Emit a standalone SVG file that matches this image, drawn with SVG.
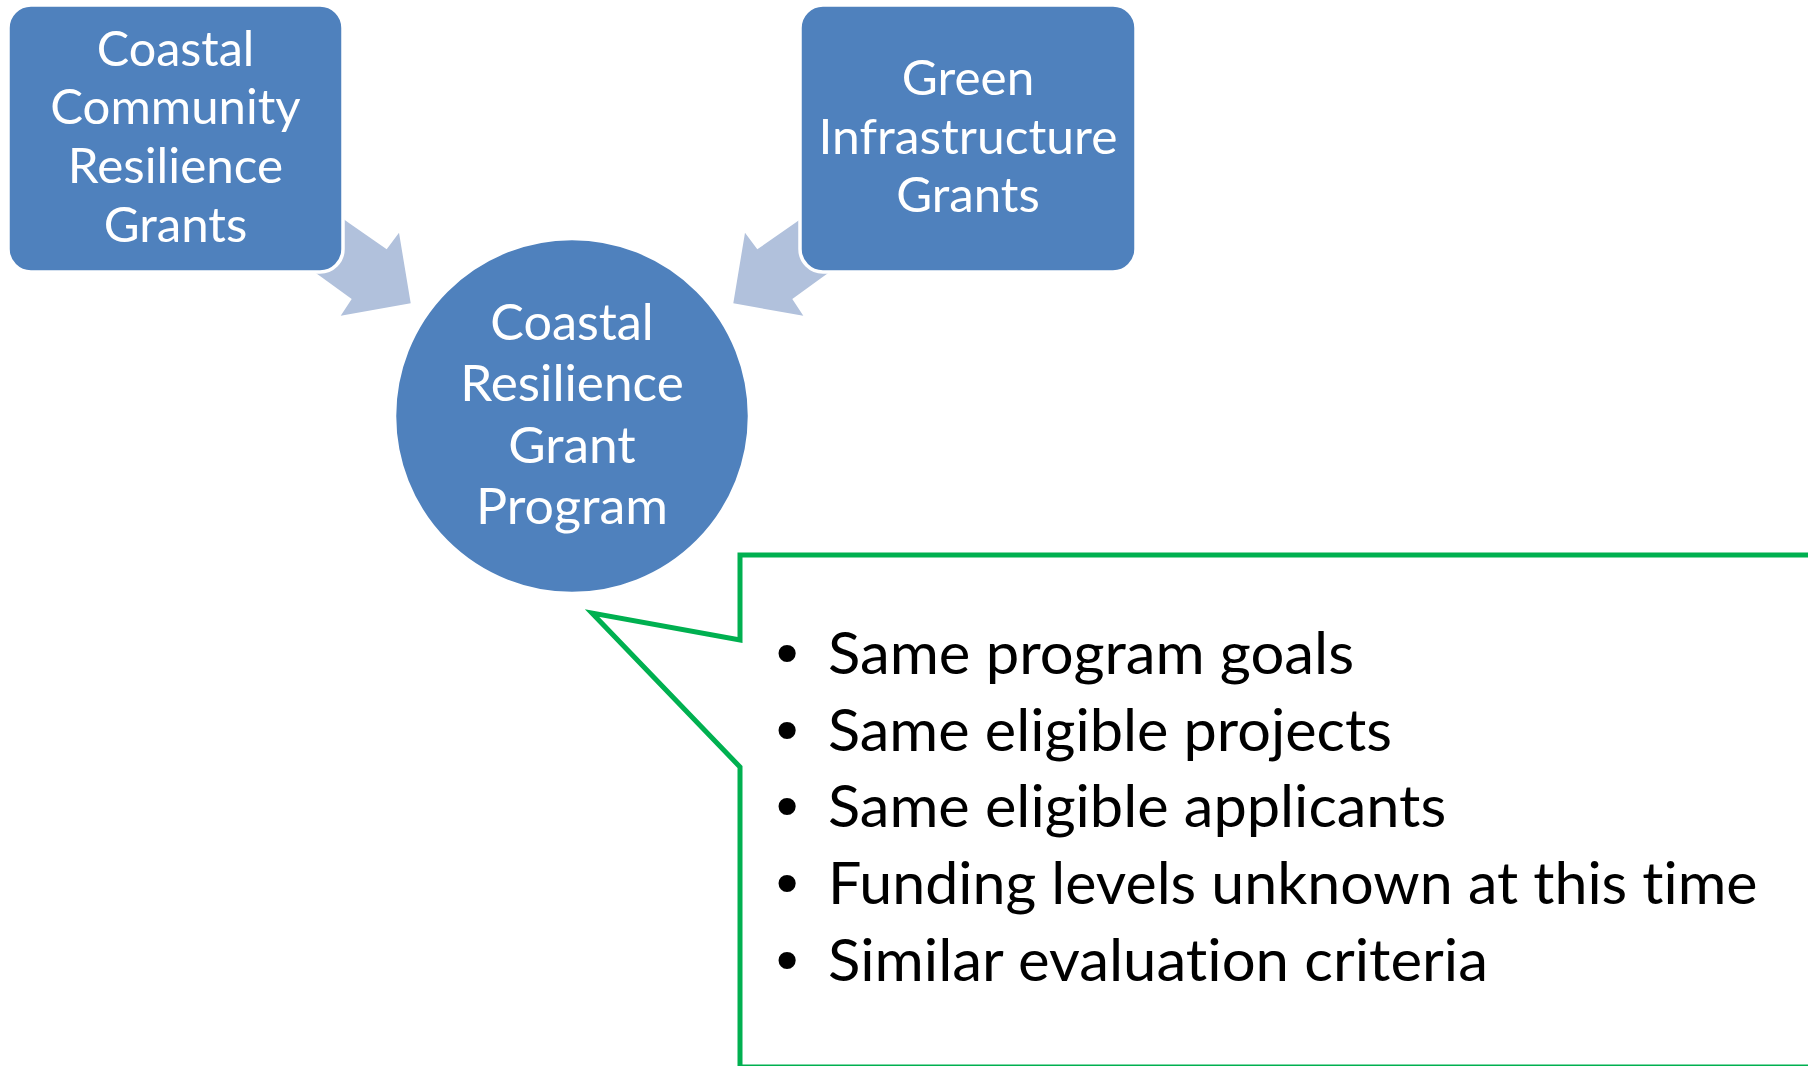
<svg xmlns="http://www.w3.org/2000/svg" width="1808" height="1066" viewBox="0 0 1808 1066">
  <style>
    text { font-variant-ligatures: none; font-feature-settings: "liga" 0, "clig" 0; }
    .node { fill: #4F81BD; stroke: #FFFFFF; stroke-width: 3.5; }
    .arrow { fill: #B1C1DC; stroke: none; }
    .lbl { font-family: Lato, "Open Sans", sans-serif; fill: #FFFFFF; text-anchor: middle; }
    .box { font-size: 47.6px; }
    .circ { font-size: 49.4px; }
    .bul { font-family: Lato, "Open Sans", sans-serif; font-size: 57.1px; fill: #000000; }
    .dot { font-family: "Liberation Sans", Arial, sans-serif; font-size: 63.5px; fill: #000000; text-anchor: middle; }
    .callout { fill: #FFFFFF; stroke: #00B050; stroke-width: 5; stroke-linejoin: miter; }
  </style>
  <rect width="1808" height="1066" fill="#FFFFFF"/>
  <g id="connectors">
    <polygon class="arrow" points="317.3,200.3 349.3,223.3 386.7,249.3 399,232.7 410.7,303.3 340.7,315.7 351.7,299 321.7,277.3 289.7,254.3"/>
    <polygon class="arrow" points="826.7,200.3 794.7,223.3 757.3,249.3 745,232.7 733.3,303.3 803.3,315.7 792.3,299 822.3,277.3 854.3,254.3"/>
  </g>
  <g id="node-coastal-community">
    <rect class="node" x="8" y="5" width="335" height="267" rx="23" ry="23"/>
    <text class="lbl box" x="175.5" y="65.5" textLength="157.6" lengthAdjust="spacingAndGlyphs">Coastal</text>
    <text class="lbl box" x="175.5" y="124.3" textLength="250.4" lengthAdjust="spacingAndGlyphs">Community</text>
    <text class="lbl box" x="175.5" y="183" textLength="215.3" lengthAdjust="spacingAndGlyphs">Resilience</text>
    <text class="lbl box" x="175.5" y="241.8" textLength="143.6" lengthAdjust="spacingAndGlyphs">Grants</text>
  </g>
  <g id="node-green-infrastructure">
    <rect class="node" x="800" y="5" width="336" height="267" rx="23" ry="23"/>
    <text class="lbl box" x="968" y="95.2" textLength="132.6" lengthAdjust="spacingAndGlyphs">Green</text>
    <text class="lbl box" x="968" y="153.8" textLength="298.9" lengthAdjust="spacingAndGlyphs">Infrastructure</text>
    <text class="lbl box" x="968" y="212.4" textLength="143.6" lengthAdjust="spacingAndGlyphs">Grants</text>
  </g>
  <g id="node-coastal-resilience-program">
    <circle class="node" cx="572" cy="416" r="177.5"/>
    <text class="lbl circ" x="572" y="339.5" textLength="163.5" lengthAdjust="spacingAndGlyphs">Coastal</text>
    <text class="lbl circ" x="572" y="401" textLength="223.5" lengthAdjust="spacingAndGlyphs">Resilience</text>
    <text class="lbl circ" x="572" y="462.5" textLength="127.5" lengthAdjust="spacingAndGlyphs">Grant</text>
    <text class="lbl circ" x="572" y="524" textLength="192" lengthAdjust="spacingAndGlyphs">Program</text>
  </g>
  <g id="node-callout">
    <polygon class="callout" points="740,555 1815,555 1815,1067 740,1067 740,767 592,613 740,640"/>
    <text class="dot" x="787" y="674">•</text>
    <text class="dot" x="787" y="750.7">•</text>
    <text class="dot" x="787" y="827.4">•</text>
    <text class="dot" x="787" y="904.1">•</text>
    <text class="dot" x="787" y="980.8">•</text>
    <text class="bul" x="828" y="674" textLength="526" lengthAdjust="spacingAndGlyphs">Same program goals</text>
    <text class="bul" x="828" y="750.7" textLength="564" lengthAdjust="spacingAndGlyphs">Same eligible projects</text>
    <text class="bul" x="828" y="827.4" textLength="618.2" lengthAdjust="spacingAndGlyphs">Same eligible applicants</text>
    <text class="bul" x="828" y="904.1" textLength="929.5" lengthAdjust="spacingAndGlyphs">Funding levels unknown at this time</text>
    <text class="bul" x="828" y="980.8" textLength="660" lengthAdjust="spacingAndGlyphs">Similar evaluation criteria</text>
  </g>
</svg>
